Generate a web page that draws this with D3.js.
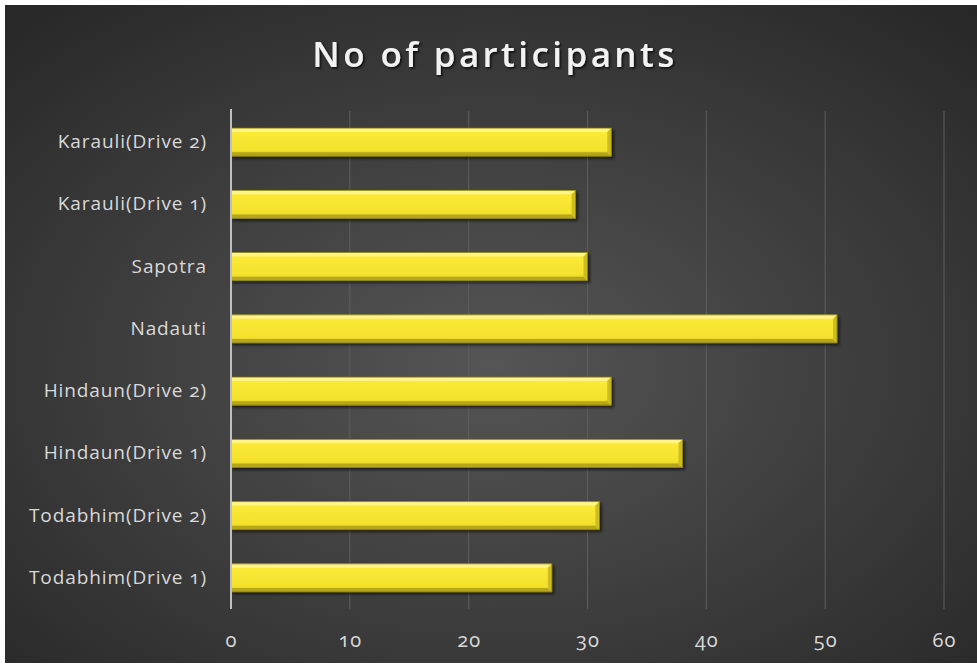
<!DOCTYPE html>
<html>
<head>
<meta charset="utf-8">
<script src="https://cdn.jsdelivr.net/npm/d3@7"></script>
<style>
  body { margin: 0; background: #ffffff; }
  svg text { font-family: "Open Sans", Lato, sans-serif; font-variant-numeric: oldstyle-nums; font-feature-settings: "onum" 1; }
</style>
</head>
<body>
<div id="chart"></div>
<script>
'use strict';

// data, top to bottom as drawn
var categories = ['Karauli(Drive 2)', 'Karauli(Drive 1)', 'Sapotra', 'Nadauti',
	'Hindaun(Drive 2)', 'Hindaun(Drive 1)', 'Todabhim(Drive 2)', 'Todabhim(Drive 1)'];
var participants = [32, 29, 30, 51, 32, 38, 31, 27];
var tickValues = [0, 10, 20, 30, 40, 50, 60];

var WIDTH = 977, HEIGHT = 670;
var margin = { left: 231, right: 33, top: 111, bottom: 61 };

var svg = d3.select('#chart').append('svg')
	.attr('width', WIDTH)
	.attr('height', HEIGHT);

var defs = svg.append('defs');

// background radial gradient
var bg = defs.append('radialGradient')
	.attr('id', 'bg')
	.attr('cx', '50%').attr('cy', '55%').attr('r', '75%');
bg.append('stop').attr('offset', '0%').attr('stop-color', '#555555');
bg.append('stop').attr('offset', '100%').attr('stop-color', '#262626');

// bar face gradient
var face = defs.append('linearGradient')
	.attr('id', 'face')
	.attr('x1', 0).attr('y1', 0).attr('x2', 0).attr('y2', 1);
face.append('stop').attr('offset', '0%').attr('stop-color', '#fff36a');
face.append('stop').attr('offset', '15%').attr('stop-color', '#fbe937');
face.append('stop').attr('offset', '80%').attr('stop-color', '#f4e12c');
face.append('stop').attr('offset', '100%').attr('stop-color', '#d6c420');

var shadow = defs.append('filter').attr('id', 'shadow')
	.attr('x', '-5%').attr('y', '-30%').attr('width', '110%').attr('height', '170%');
shadow.append('feDropShadow')
	.attr('dx', 2).attr('dy', 2).attr('stdDeviation', 1.5)
	.attr('flood-color', '#000').attr('flood-opacity', 0.6);

var tshadow = defs.append('filter').attr('id', 'tshadow');
tshadow.append('feDropShadow')
	.attr('dx', 1.5).attr('dy', 1.5).attr('stdDeviation', 1.2)
	.attr('flood-color', '#000').attr('flood-opacity', 0.8);

svg.append('rect')
	.attr('x', 5).attr('y', 5)
	.attr('width', WIDTH - 5).attr('height', HEIGHT - 12)
	.attr('fill', 'url(#bg)');

// title
svg.append('text')
	.attr('x', 495)
	.attr('y', 67)
	.attr('text-anchor', 'middle')
	.attr('fill', '#f2f2f2')
	.attr('font-size', 35)
	.attr('font-weight', 600)
	.attr('letter-spacing', 3.4)
	.attr('filter', 'url(#tshadow)')
	.text('No of participants');

var x = d3.scaleLinear()
	.domain([0, 60])
	.range([margin.left, WIDTH - margin.right]);

var y = d3.scaleBand()
	.domain(categories)
	.range([margin.top, HEIGHT - margin.bottom])
	.paddingInner(0.55)
	.paddingOuter(0.275);

// gridlines
svg.append('g')
	.selectAll('line')
	.data(tickValues.slice(1))
	.join('line')
		.attr('x1', function(d) { return x(d); })
		.attr('x2', function(d) { return x(d); })
		.attr('y1', margin.top)
		.attr('y2', HEIGHT - margin.bottom)
		.attr('stroke', '#5e5e5e')
		.attr('stroke-width', 1);

// x tick labels
var xAxis = svg.append('g')
	.attr('transform', 'translate(0,' + (HEIGHT - margin.bottom) + ')')
	.call(d3.axisBottom(x).tickValues(tickValues).tickSize(0).tickPadding(24));
xAxis.select('.domain').remove();
xAxis.selectAll('text')
	.attr('fill', '#d9d9d9')
	.attr('font-size', 20)
	.attr('letter-spacing', 1);

// y labels
var yAxis = svg.append('g')
	.attr('transform', 'translate(' + margin.left + ',0)')
	.call(d3.axisLeft(y).tickSize(0).tickPadding(24));
yAxis.select('.domain').remove();
yAxis.selectAll('text')
	.attr('fill', '#d9d9d9')
	.attr('font-size', 19)
	.attr('letter-spacing', 0.9);

// bars
var bars = svg.append('g')
	.selectAll('g')
	.data(participants)
	.join('g')
		.attr('filter', 'url(#shadow)');

var bh = y.bandwidth();
var bev = 4;

bars.append('rect')
	.attr('x', x(0))
	.attr('y', function(d, i) { return y(categories[i]); })
	.attr('width', function(d) { return x(d) - x(0); })
	.attr('height', bh)
	.attr('fill', 'url(#face)');

// top bevel
bars.append('path')
	.attr('d', function(d, i) {
		var y0 = y(categories[i]), x1 = x(d);
		return 'M' + x(0) + ',' + y0 + 'L' + x1 + ',' + y0 + 'L' + (x1 - bev) + ',' + (y0 + bev) +
			'L' + x(0) + ',' + (y0 + bev) + 'Z';
	})
	.attr('fill', '#fff587');

// bottom bevel
bars.append('path')
	.attr('d', function(d, i) {
		var y1 = y(categories[i]) + bh, x1 = x(d);
		return 'M' + x(0) + ',' + y1 + 'L' + x1 + ',' + y1 + 'L' + (x1 - bev) + ',' + (y1 - bev) +
			'L' + x(0) + ',' + (y1 - bev) + 'Z';
	})
	.attr('fill', '#b5a61c');

// right bevel
bars.append('path')
	.attr('d', function(d, i) {
		var y0 = y(categories[i]), x1 = x(d);
		return 'M' + x1 + ',' + y0 + 'L' + x1 + ',' + (y0 + bh) + 'L' + (x1 - bev) + ',' + (y0 + bh - bev) +
			'L' + (x1 - bev) + ',' + (y0 + bev) + 'Z';
	})
	.attr('fill', '#cdbd22');

bars.append('rect')
	.attr('x', x(0))
	.attr('y', function(d, i) { return y(categories[i]); })
	.attr('width', function(d) { return x(d) - x(0); })
	.attr('height', bh)
	.attr('fill', 'none')
	.attr('stroke', '#8a7e14')
	.attr('stroke-width', 0.8);

// axis line
svg.append('line')
	.attr('x1', x(0)).attr('x2', x(0))
	.attr('y1', margin.top - 2)
	.attr('y2', HEIGHT - margin.bottom)
	.attr('stroke', '#bfbfbf')
	.attr('stroke-width', 2);
</script>
</body>
</html>
